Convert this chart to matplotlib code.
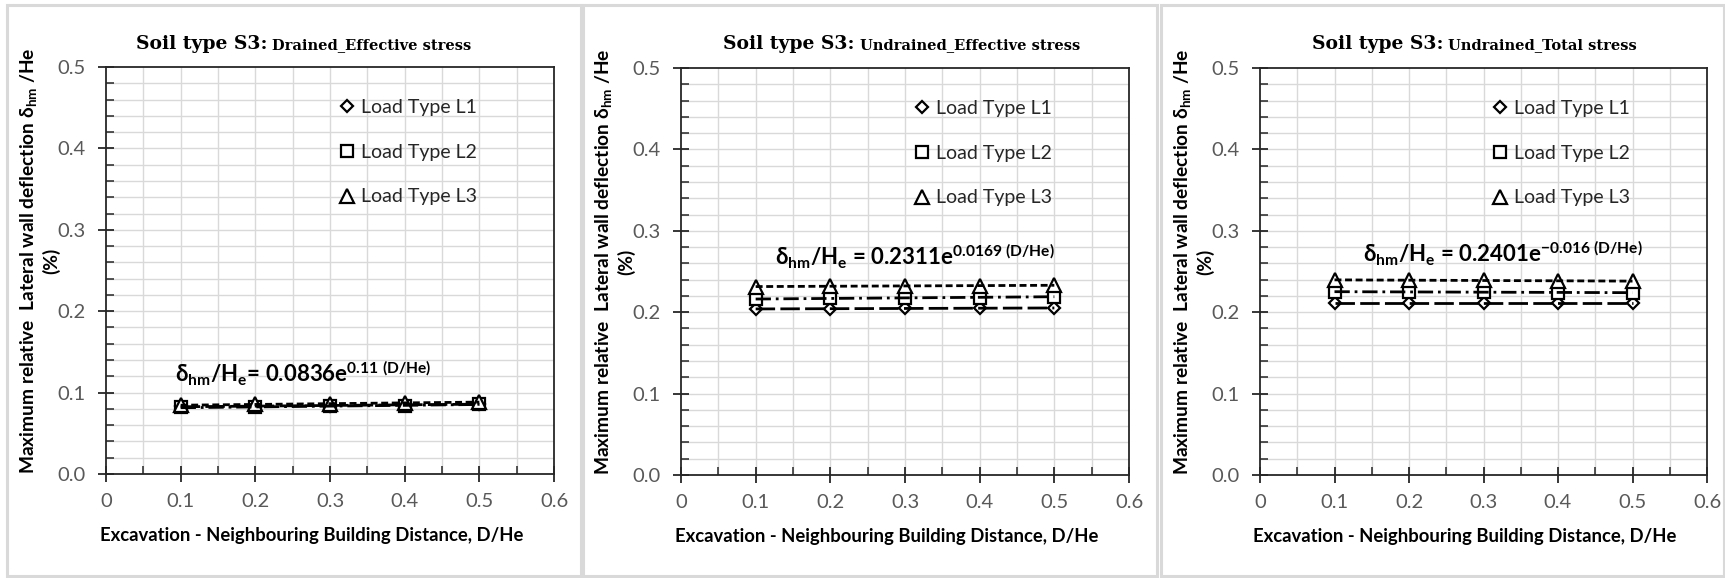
import numpy as np
import matplotlib
matplotlib.use("Agg")
import matplotlib.pyplot as plt
from matplotlib.patches import Rectangle
from matplotlib.ticker import MultipleLocator, FixedLocator

plt.rcParams['font.family'] = ['Lato', 'DejaVu Sans']
plt.rcParams['mathtext.fontset'] = 'custom'
plt.rcParams['mathtext.rm'] = 'Lato:bold'
plt.rcParams['mathtext.it'] = 'Lato:bold'
plt.rcParams['mathtext.bf'] = 'Lato:bold'
plt.rcParams['mathtext.sf'] = 'Lato:bold'
plt.rcParams['lines.scale_dashes'] = False

# ---- data -------------------------------------------------------------
distance = [0.1, 0.2, 0.3, 0.4, 0.5]          # D/He
series_names = ["Load Type L1", "Load Type L2", "Load Type L3"]

drained_eff_L1 = [0.083, 0.083, 0.084, 0.085, 0.086]
drained_eff_L2 = [0.082, 0.082, 0.083, 0.084, 0.086]
drained_eff_L3 = [0.0845, 0.0855, 0.086, 0.087, 0.088]

undrained_eff_L1 = [0.204, 0.204, 0.205, 0.205, 0.205]
undrained_eff_L2 = [0.216, 0.217, 0.218, 0.218, 0.219]
undrained_eff_L3 = [0.2315, 0.232, 0.2323, 0.2327, 0.233]

undrained_tot_L1 = [0.211, 0.211, 0.211, 0.211, 0.211]
undrained_tot_L2 = [0.225, 0.225, 0.225, 0.224, 0.224]
undrained_tot_L3 = [0.2398, 0.2393, 0.239, 0.2386, 0.2382]

panel_subtitles = ["Drained_Effective stress",
                   "Undrained_Effective stress",
                   "Undrained_Total stress"]

# exponential fit shown on each panel: a * exp(b * D/He)
fit_a = [0.0836, 0.2311, 0.2401]
fit_b = [0.11, 0.0169, -0.016]
fit_b_text = ["0.11", "0.0169", "-0.016"]
eq_sep = ["= ", " = ", " = "]

x_ticks = [0, 0.1, 0.2, 0.3, 0.4, 0.5, 0.6]
x_tick_labels = ["0", "0.1", "0.2", "0.3", "0.4", "0.5", "0.6"]
y_ticks = [0.0, 0.1, 0.2, 0.3, 0.4, 0.5]
y_tick_labels = ["0.0", "0.1", "0.2", "0.3", "0.4", "0.5"]

panels = [
    (drained_eff_L1, drained_eff_L2, drained_eff_L3),
    (undrained_eff_L1, undrained_eff_L2, undrained_eff_L3),
    (undrained_tot_L1, undrained_tot_L2, undrained_tot_L3),
]

# ---- layout -----------------------------------------------------------
W, H = 1725, 578
fig = plt.figure(figsize=(W / 100, H / 100), dpi=100)

def fx(px):
    return px / W

def fy(py):
    return 1 - py / H

# panel frames (x0, x1) in pixels
frames = [(7, 581), (583, 1157), (1161, 1724)]
for x0, x1 in frames:
    fig.patches.append(Rectangle((fx(x0), fy(576)), fx(x1 - x0), (576 - 5) / H,
                                 transform=fig.transFigure, fill=False,
                                 edgecolor="#d9d9d9", lw=2.2))

# axes boxes: left, right, top, bottom in pixels
axes_px = [(106, 554, 67, 474), (681, 1129, 68, 475), (1260, 1707, 68, 475)]
title_x = [136, 723, 1312]
eq_pos = [(0.092, 0.112), (0.126, 0.258), (0.138, 0.261)]

markers = ["D", "s", "^"]
marker_sizes = [6.3, 9.0, 9.5]
line_styles = [(0, (14, 3.8)), (0, (11, 3.5, 2, 3.5)), (0, (5, 2.6))]

def exp_fit(x, y):
    b, ln_a = np.polyfit(np.asarray(x), np.log(np.asarray(y)), 1)
    return np.exp(ln_a), b

gray = "#595959"

for i, (series, (l, r, t, b)) in enumerate(zip(panels, axes_px)):
    ax = fig.add_axes([fx(l), fy(b), fx(r - l), (b - t) / H])
    ax.set_xlim(0, 0.6)
    ax.set_ylim(0, 0.5)

    # gridlines
    for gx in np.arange(0.05, 0.6, 0.05):
        ax.axvline(gx, color="#d9d9d9", lw=1.0, zorder=0)
    for gy in np.arange(0.02, 0.5, 0.02):
        ax.axhline(gy, color="#d9d9d9", lw=1.0, zorder=0)

    handles = []
    for k, ys in enumerate(series):
        h, = ax.plot(distance, ys, linestyle="none", marker=markers[k],
                     ms=marker_sizes[k], mfc="white", mec="black", mew=1.6,
                     zorder=3, label=series_names[k])
        handles.append(h)

    xs = np.linspace(distance[0], distance[-1], 50)
    for k, ys in enumerate(series):
        if k == 2:
            a_k, b_k = fit_a[i], fit_b[i]
        else:
            a_k, b_k = exp_fit(distance, ys)
        ax.plot(xs, a_k * np.exp(b_k * xs), color="black", lw=2.0,
                linestyle=line_styles[k], zorder=4, dash_capstyle="butt")

    # ticks
    ax.xaxis.set_major_locator(FixedLocator(x_ticks))
    ax.set_xticklabels(x_tick_labels)
    ax.xaxis.set_minor_locator(FixedLocator([0.05, 0.15, 0.25, 0.35, 0.45, 0.55]))
    ax.yaxis.set_major_locator(FixedLocator(y_ticks))
    ax.set_yticklabels(y_tick_labels)
    ax.yaxis.set_minor_locator(MultipleLocator(0.02))
    ax.tick_params(which="major", direction="inout", length=11, width=1.3,
                   color="#262626", labelsize=14.5, labelcolor=gray)
    ax.tick_params(axis="x", which="major", pad=8)
    ax.tick_params(axis="y", which="major", pad=9)
    ax.tick_params(which="minor", direction="in", length=5.5, width=1.1,
                   color="#262626")
    for sp in ax.spines.values():
        sp.set_color("#262626")
        sp.set_linewidth(1.3)

    ax.set_xlabel("Excavation - Neighbouring Building Distance, D/He",
                  fontsize=13.3, fontweight="bold")
    ax.xaxis.set_label_coords(0.459, -0.13)
    ax.set_ylabel("Maximum relative  Lateral wall deflection δ$_{hm}$ /He\n(%)",
                  fontsize=13.8, fontweight="bold", linespacing=1.2)
    ax.yaxis.set_label_coords(-0.103, 0.523)

    leg = ax.legend(handles=handles, loc="upper left",
                    bbox_to_anchor=(0.503, 0.94), frameon=False,
                    fontsize=14, handlelength=0.8, handletextpad=0.3,
                    labelspacing=1.42, borderaxespad=0)
    for txt in leg.get_texts():
        txt.set_color("#262626")

    ex, ey = eq_pos[i]
    ax.text(ex, ey,
            "δ$_{hm}$/H$_{e}$" + eq_sep[i] + f"{fit_a[i]:.4f}" + "e$^{" + fit_b_text[i] + r"\ (D/He)}$",
            fontsize=16, fontweight="bold", va="baseline", ha="left", zorder=5)

    # two-part panel title
    t1 = fig.text(fx(title_x[i]), fy(49), "Soil type S3:",
                  family="DejaVu Serif", fontweight="bold", fontsize=13.5,
                  va="baseline", ha="left")
    ax._title_main = t1

fig.canvas.draw()
renderer = fig.canvas.get_renderer()
for i, ax in enumerate(fig.axes):
    bb = ax._title_main.get_window_extent(renderer)
    fig.text((bb.x1 + 5) / W, fy(49), panel_subtitles[i],
             family="DejaVu Serif", fontweight="bold", fontsize=10.5,
             va="baseline", ha="left")

fig.savefig("out.png", dpi=100, facecolor="white")
